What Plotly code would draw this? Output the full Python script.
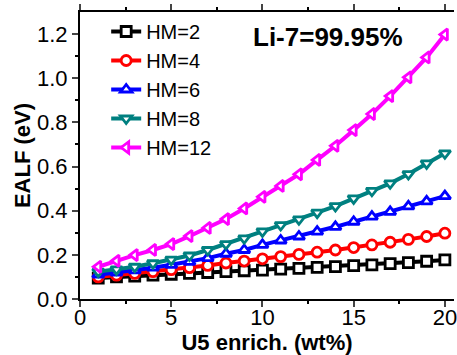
import plotly.graph_objects as go

x = list(range(1, 21))
hm2 = [0.095, 0.1, 0.104, 0.108, 0.112, 0.116, 0.12, 0.124, 0.128, 0.131,
       0.135, 0.139, 0.143, 0.147, 0.151, 0.155, 0.16, 0.165, 0.171, 0.177]
hm4 = [0.10, 0.108, 0.116, 0.124, 0.133, 0.142, 0.152, 0.163, 0.172, 0.182,
       0.192, 0.202, 0.212, 0.222, 0.233, 0.245, 0.257, 0.27, 0.283, 0.298]
hm6 = [0.11, 0.12, 0.13, 0.142, 0.155, 0.168, 0.185, 0.205, 0.222, 0.245,
       0.265, 0.283, 0.305, 0.327, 0.35, 0.373, 0.395, 0.42, 0.442, 0.466]
hm8 = [0.124, 0.134, 0.146, 0.162, 0.178, 0.197, 0.222, 0.249, 0.275, 0.306,
       0.335, 0.361, 0.391, 0.421, 0.456, 0.49, 0.524, 0.566, 0.614, 0.66]
hm12 = [0.146, 0.173, 0.199, 0.222, 0.249, 0.285, 0.322, 0.362, 0.41, 0.463,
        0.512, 0.565, 0.63, 0.694, 0.765, 0.838, 0.919, 1.004, 1.094, 1.198]

series = [
    ("HM=2", hm2, "#000000", "square"),
    ("HM=4", hm4, "#ff0000", "circle"),
    ("HM=6", hm6, "#0000ff", "triangle-up"),
    ("HM=8", hm8, "#008080", "triangle-down"),
    ("HM=12", hm12, "#ff00ff", "triangle-left"),
]

FONT = "Liberation Sans, Arial, sans-serif"
fig = go.Figure()
for name, ys, col, sym in series:
    fig.add_trace(go.Scatter(
        x=x, y=ys, name=name, mode="lines+markers",
        line=dict(color=col, width=4),
        marker=dict(symbol=sym, size=10, color="white",
                    line=dict(color=col, width=2.8)),
    ))

fig.update_layout(
    width=457, height=355,
    margin=dict(l=80, r=0, t=12, b=56),
    paper_bgcolor="white", plot_bgcolor="white",
    font=dict(family=FONT, size=22, color="black"),
    showlegend=True,
    legend=dict(x=0.07, y=1.0, xanchor="left", yanchor="top",
                bgcolor="rgba(0,0,0,0)", font=dict(size=20),
                tracegroupgap=0, itemwidth=30),
    annotations=[dict(text="<b>Li-7=99.95%</b>", x=0.663, y=0.913,
                      xref="paper", yref="paper", showarrow=False,
                      xanchor="center", yanchor="middle",
                      font=dict(size=26, family=FONT))],
)
fig.update_xaxes(range=[0, 20.5], tickvals=[0, 5, 10, 15, 20],
                 showline=True, linewidth=2, linecolor="black", mirror="ticks",
                 ticks="outside", ticklen=6, tickwidth=2, showgrid=False,
                 zeroline=False, tickfont=dict(size=22), ticklabeloverflow="allow",
                 ticklabelstandoff=-8,
                 minor=dict(tickvals=[2.5, 7.5, 12.5, 17.5], ticks="outside",
                            ticklen=3, tickwidth=1.5, tickcolor="black"),
                 title=dict(text="<b>U5 enrich. (wt%)</b>", standoff=2,
                            font=dict(size=22)))
fig.update_yaxes(range=[0, 1.3], tickvals=[0, 0.2, 0.4, 0.6, 0.8, 1.0, 1.2],
                 tickformat=".1f",
                 showline=True, linewidth=2, linecolor="black",
                 ticks="outside", ticklen=6, tickwidth=2, showgrid=False,
                 zeroline=False, tickfont=dict(size=22),
                 minor=dict(tickvals=[0.1, 0.3, 0.5, 0.7, 0.9, 1.1], ticks="outside",
                            ticklen=3, tickwidth=1.5, tickcolor="black"),
                 title=dict(text="<b>EALF (eV)</b>", standoff=0,
                            font=dict(size=22)))
fig.write_html("out.html")
